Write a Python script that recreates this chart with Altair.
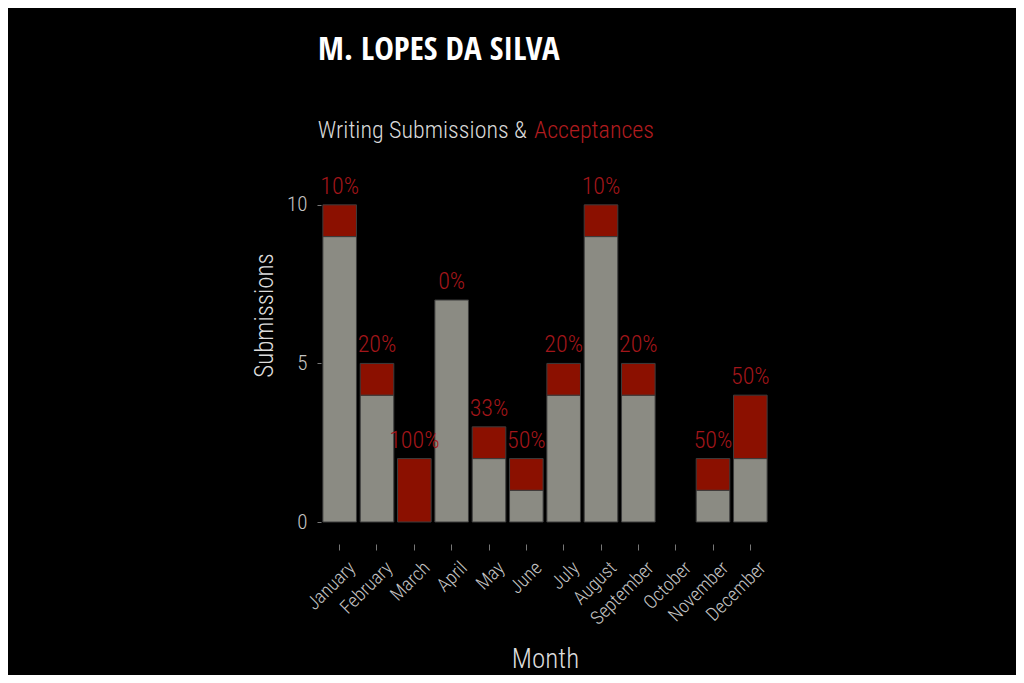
import altair as alt
import pandas as pd

months = ["January", "February", "March", "April", "May", "June", "July",
          "August", "September", "October", "November", "December"]
accepted = [1, 1, 2, 0, 1, 1, 1, 1, 1, 0, 1, 2]
not_accepted = [9, 4, 0, 7, 2, 1, 4, 9, 4, 0, 1, 2]
pct_labels = ["10%", "20%", "100%", "0%", "33%", "50%", "20%", "10%", "20%", "", "50%", "50%"]

FONT = "Roboto Condensed"
W = 300
GREY = "#8b8b83"
RED = "#8b1000"
LABEL_RED = "#a3161a"

rows = []
for m, a, r in zip(months, accepted, not_accepted):
    if r > 0:
        rows.append({"month": m, "status": "Not accepted", "count": r, "order": 0})
    if a > 0:
        rows.append({"month": m, "status": "Accepted", "count": a, "order": 1})
bars_df = pd.DataFrame(rows)
tot_df = pd.DataFrame({"month": months,
                       "total": [a + r for a, r in zip(accepted, not_accepted)],
                       "label": pct_labels})

xscale = alt.Scale(domain=months, paddingInner=0.1, paddingOuter=0.05)
yscale = alt.Scale(domain=[0, 10.5], nice=False)

bars = alt.Chart(bars_df).mark_bar(stroke="#3c3c3c", strokeWidth=1).encode(
    x=alt.X("month:N", sort=months, scale=xscale,
            axis=alt.Axis(title="Month", labelAngle=315, labelAlign="right",
                          labelBaseline="top", labelPadding=8, labelOffset=6,
                          labelFontSize=19, labelColor="#c4c4c4", labelFont=FONT,
                          labelFontWeight=W,
                          tickSize=6, tickColor="#777777", domain=False, offset=22,
                          titleFont=FONT, titleFontSize=27, titleFontWeight=W,
                          titleColor="#dddddd", titleY=123, titleBaseline="alphabetic")),
    y=alt.Y("count:Q", stack="zero", scale=yscale,
            axis=alt.Axis(title="Submissions", values=[0, 5, 10], grid=False, domain=False,
                          tickSize=4, tickColor="#777777", labelPadding=10,
                          labelFontSize=21, labelColor="#c4c4c4", labelFont=FONT,
                          labelFontWeight=W,
                          titleFont=FONT, titleFontSize=25, titleFontWeight=W,
                          titleColor="#dddddd", titleAngle=270, titleAlign="center",
                          titleBaseline="middle", titleX=-57, titleY=126)),
    color=alt.Color("status:N", scale=alt.Scale(domain=["Not accepted", "Accepted"],
                                                range=[GREY, RED]), legend=None),
    order=alt.Order("order:Q", sort="ascending"),
)

labels = alt.Chart(tot_df).mark_text(font=FONT, fontWeight=W, fontSize=24, color=LABEL_RED,
                                     baseline="alphabetic", dy=-11).encode(
    x=alt.X("month:N", sort=months, scale=xscale),
    y=alt.Y("total:Q", scale=yscale),
    text="label:N",
)

title = alt.Chart(pd.DataFrame({"t": ["M. LOPES DA SILVA"]})).mark_text(
    font="Open Sans Condensed", fontWeight="bold", fontSize=33, color="#ffffff",
    align="left", baseline="alphabetic").encode(
    text="t:N", x=alt.value(-3), y=alt.value(-129))

sub1 = alt.Chart(pd.DataFrame({"t": ["Writing Submissions &"]})).mark_text(
    font=FONT, fontWeight=W, fontSize=24, color="#d9d9d9", align="right",
    baseline="alphabetic").encode(
    text="t:N", x=alt.value(206), y=alt.value(-51))
sub2 = alt.Chart(pd.DataFrame({"t": ["Acceptances"]})).mark_text(
    font=FONT, fontWeight=W, fontSize=24, color="#b01c1f", align="left",
    baseline="alphabetic").encode(
    text="t:N", x=alt.value(213), y=alt.value(-51))

chart = alt.layer(bars, labels, title, sub1, sub2).properties(
    width=448, height=333,
    background="#000000",
    autosize=alt.AutoSizeParams(type="none"),
    padding={"left": 313, "top": 181, "right": 247, "bottom": 153},
).configure_view(stroke=None)

chart.save("out.html", embed_options={"renderer": "svg", "actions": False})
